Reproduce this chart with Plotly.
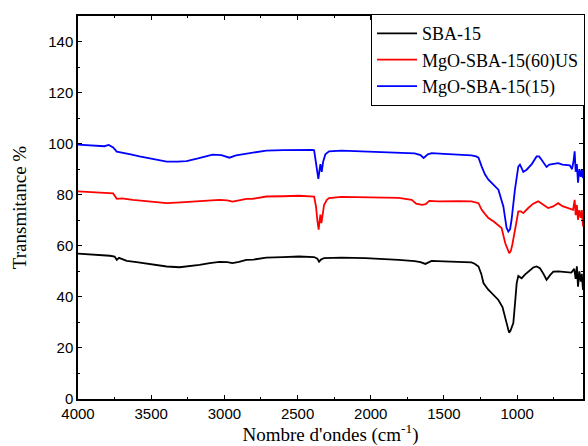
import plotly.graph_objects as go

# ---- data ----
names = ["SBA-15", "MgO-SBA-15(60)US", "MgO-SBA-15(15)"]
colors = ["#000000", "#ff0000", "#0000ff"]

sba_x = [4000, 3900, 3820, 3782, 3750, 3735, 3720, 3667, 3600, 3510, 3450, 3394, 3306, 3240, 3170, 3100, 3034, 2980, 2945, 2900, 2850, 2800, 2714, 2600, 2490, 2387, 2365, 2353, 2340, 2319, 2200, 2036, 1900, 1809, 1700, 1660, 1627, 1600, 1584, 1500, 1400, 1312, 1290, 1264, 1245, 1230, 1200, 1174, 1150, 1128, 1100, 1083, 1065, 1055, 1045, 1026, 1015, 1003, 992, 969, 945, 924, 890, 867, 844, 820, 799, 775, 753, 720, 697, 660, 629, 610, 600, 592, 584, 575, 565, 558, 550]
sba_y = [56.9, 56.6, 56.3, 56.1, 55.8, 54.5, 55.3, 54.1, 53.6, 52.8, 52.3, 51.9, 51.6, 51.9, 52.5, 53.2, 53.7, 53.6, 53.2, 53.7, 54.5, 54.6, 55.4, 55.6, 55.8, 55.6, 55.0, 53.8, 54.6, 55.2, 55.4, 55.2, 54.9, 54.5, 54.0, 53.6, 52.9, 53.8, 54.1, 53.9, 53.8, 53.5, 53.0, 51.9, 49.0, 45.4, 43.0, 41.5, 40.2, 38.8, 36.0, 32.3, 27.5, 26.0, 26.8, 29.7, 37.0, 45.4, 48.2, 47.3, 48.8, 49.9, 51.5, 51.9, 51.2, 49.0, 46.7, 48.5, 49.9, 50.0, 49.9, 49.8, 49.5, 51.0, 47.0, 52.0, 44.0, 50.0, 46.0, 49.0, 42.7]

us_x = [4000, 3900, 3820, 3782, 3760, 3735, 3700, 3626, 3560, 3500, 3442, 3394, 3300, 3170, 3080, 3034, 2980, 2945, 2900, 2850, 2809, 2714, 2600, 2490, 2387, 2374, 2365, 2356, 2350, 2344, 2337, 2325, 2319, 2300, 2285, 2200, 2000, 1809, 1720, 1690, 1650, 1625, 1600, 1537, 1400, 1312, 1264, 1242, 1220, 1196, 1160, 1128, 1106, 1081, 1065, 1054, 1043, 1033, 1006, 992, 975, 958, 924, 890, 856, 822, 788, 754, 720, 690, 652, 618, 607, 600, 592, 584, 575, 565, 558, 550]
us_y = [81.3, 81.0, 80.8, 80.7, 80.5, 78.4, 78.6, 78.0, 77.6, 77.4, 77.1, 76.7, 77.0, 77.4, 77.8, 78.0, 77.8, 77.3, 77.8, 78.4, 78.4, 79.3, 79.4, 79.6, 79.3, 75.4, 70.0, 66.3, 69.5, 72.2, 68.9, 74.0, 76.0, 78.0, 78.7, 79.2, 79.0, 78.8, 78.0, 76.5, 76.0, 76.3, 77.6, 77.4, 77.5, 77.4, 76.7, 74.1, 72.5, 70.9, 69.5, 68.2, 67.0, 61.0, 58.5, 57.1, 58.0, 60.4, 68.9, 73.5, 73.5, 72.8, 74.8, 76.5, 77.4, 76.1, 74.8, 75.4, 76.7, 75.5, 74.8, 74.1, 78.0, 72.0, 76.0, 70.2, 74.0, 71.0, 74.0, 67.6]

mg_x = [4000, 3900, 3820, 3790, 3760, 3735, 3700, 3640, 3580, 3500, 3440, 3394, 3320, 3258, 3180, 3080, 3020, 2966, 2920, 2870, 2850, 2800, 2714, 2600, 2490, 2400, 2387, 2376, 2365, 2358, 2350, 2344, 2335, 2325, 2310, 2285, 2200, 2100, 2000, 1900, 1809, 1700, 1660, 1639, 1610, 1584, 1500, 1400, 1312, 1280, 1264, 1242, 1220, 1196, 1160, 1128, 1094, 1072, 1060, 1048, 1038, 1015, 992, 981, 970, 958, 935, 900, 867, 850, 833, 815, 799, 780, 753, 720, 690, 640, 625, 615, 607, 600, 592, 584, 575, 565, 558, 550]
mg_y = [99.6, 99.4, 99.0, 99.5, 98.5, 96.9, 96.6, 95.8, 95.0, 94.2, 93.3, 93.0, 93.0, 93.2, 94.2, 95.7, 95.5, 94.5, 95.4, 95.9, 96.0, 96.4, 97.3, 97.5, 97.6, 97.6, 97.4, 93.7, 89.0, 86.2, 89.5, 92.0, 89.0, 93.0, 95.8, 97.0, 97.3, 97.1, 96.9, 96.7, 96.4, 96.2, 95.5, 94.4, 95.8, 96.3, 96.0, 95.8, 95.4, 95.0, 94.5, 91.0, 88.0, 85.9, 83.8, 82.0, 75.4, 67.0, 65.6, 66.5, 70.2, 82.0, 91.0, 91.8, 90.5, 88.9, 89.8, 92.0, 95.0, 95.0, 93.7, 92.0, 90.9, 91.8, 92.2, 92.4, 91.8, 91.5, 90.0, 93.0, 97.0, 89.0, 92.0, 84.7, 90.0, 87.0, 90.0, 86.5]

x_ticks = [4000, 3500, 3000, 2500, 2000, 1500, 1000]
y_ticks = [0, 20, 40, 60, 80, 100, 120, 140]

series = [(sba_x, sba_y), (us_x, us_y), (mg_x, mg_y)]

SERIF = "Liberation Serif"
SANS = "Liberation Sans"

fig = go.Figure()
for (xs, ys), name, col in zip(series, names, colors):
    fig.add_trace(go.Scatter(x=xs, y=ys, mode="lines", name=name,
                             line=dict(color=col, width=1.8)))

axis_common = dict(
    showline=True, linecolor="black", linewidth=1.5, mirror="ticks",
    ticks="inside", ticklen=4, tickcolor="black", tickwidth=1,
    showgrid=False, zeroline=False,
    tickfont=dict(family=SANS, size=15, color="black"),
)

fig.update_layout(
    width=588, height=446,
    margin=dict(l=78, r=3, t=16, b=47),
    paper_bgcolor="white", plot_bgcolor="white",
    font=dict(family=SERIF, color="black"),
    xaxis=dict(range=[4000, 550], tickvals=x_ticks,
               minor=dict(dtick=250, ticks="inside", ticklen=2.5, tickcolor="black"),
               title=dict(text="Nombre d'ondes (cm<sup>-1</sup>)", standoff=8,
                          font=dict(family=SERIF, size=19, color="black")),
               **axis_common),
    yaxis=dict(range=[0, 150], tickvals=y_ticks,
               minor=dict(dtick=10, ticks="inside", ticklen=2.5, tickcolor="black"),
               title=dict(text="Transmitance %", standoff=17,
                          font=dict(family=SERIF, size=19, color="black")),
               **axis_common),
    legend=dict(x=1.004, y=1.005, xanchor="right", yanchor="top",
                bgcolor="white", bordercolor="black", borderwidth=1,
                font=dict(family=SERIF, size=18, color="black"),
                tracegroupgap=0, itemwidth=40),
    showlegend=True,
)

fig.write_html("out.html")
